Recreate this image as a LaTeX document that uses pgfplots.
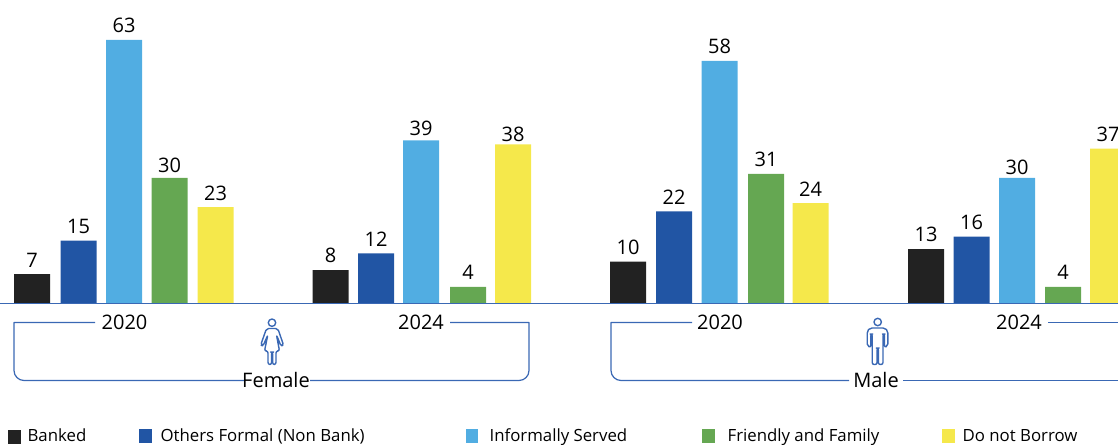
\documentclass[border=0pt]{standalone}
\usepackage{pgfplots}
\pgfplotsset{compat=1.18}
\usepackage{fontspec}
\setmainfont{Open Sans}
\definecolor{cBanked}{HTML}{222222}
\definecolor{cFormal}{HTML}{2155A4}
\definecolor{cInformal}{HTML}{51ADE2}
\definecolor{cFamily}{HTML}{65A752}
\definecolor{cNone}{HTML}{F5E84B}
\definecolor{cRule}{HTML}{3A68B4}
\pgfplotsset{
  share/.style={draw=none, fill=#1, bar shift=0pt, bar width=36,
    nodes near coords, every node near coord/.append style={font=\fontsize{15}{16}\selectfont, text=black, inner sep=0pt, yshift=5pt, /pgf/number format/assume math mode=true}},
}
\begin{document}
\begin{tikzpicture}[x=0.75pt,y=0.75pt]
\useasboundingbox (0,0) rectangle (1118,444);
\clip (0,0) rectangle (1118,444);
\begin{axis}[
  at={(0,0)}, anchor=south west, scale only axis,
  width=838.5pt, height=333pt,
  xmin=0, xmax=1118, ymin=-33.57, ymax=72.52,
  axis lines=none, ybar, clip=false,
  /pgf/number format/assume math mode=true,
]
% Banked
\addplot[share=cBanked] coordinates {(32,7) (330.5,8) (628,10) (926,13)};
% Others formal
\addplot[share=cFormal] coordinates {(78.5,15) (376,12) (674,22) (971.5,16)};
% Informally served
\addplot[share=cInformal, coordinate style/.condition={x==421}{yshift=-2pt}, coordinate style/.condition={x==1017}{yshift=-2.5pt}] coordinates {(124,63) (421,39) (719.5,58) (1017,30)};
% Friends and family
\addplot[share=cFamily, coordinate style/.condition={x==169.5}{yshift=-1pt}] coordinates {(169.5,30) (468,4) (766,31) (1063,4)};
% No borrowing
\addplot[share=cNone, coordinate style/.condition={x==513}{yshift=-3pt}] coordinates {(215.5,23) (513,38) (810.5,24) (1108,37)};
\end{axis}
\begin{scope}[shift={(0,444)},y=-0.75pt,x=0.75pt,line width=0.9pt]
  \tikzset{rule/.style={draw=cRule, line join=round}}
  % baseline
  \draw[rule] (0,303.5) -- (1118,303.5);
  % group brackets: square at the top, rounded at the bottom
  \draw[rule] (95,322.5) -- (14,322.5) -- (14,350) [rounded corners=7.5pt] -- (14,380.5) -- (245,380.5);
  \draw[rule] (450,322.5) -- (529,322.5) -- (529,350) [rounded corners=7.5pt] -- (529,380.5) -- (310,380.5);
  \draw[rule] (692,322.5) -- (611,322.5) -- (611,350) [rounded corners=7.5pt] -- (611,380.5) -- (849,380.5);
  \draw[rule] (903,380.5) -- (1130,380.5);
  \draw[rule] (1048,322.5) -- (1130,322.5);
  % figures
  \begin{scope}[line width=1.05pt]
    \draw[rule] (272,322.7) circle (3.7);
    \draw[rule, rounded corners=1.5pt] (266.5,328.5) -- (277.8,328.5) -- (283.5,345) -- (281,346) -- (276.5,335) -- (279.5,351) -- (276,351) -- (276,364.5) -- (272.6,364.5) -- (272.6,352) -- (271.6,352) -- (271.6,364.5) -- (268,364.5) -- (268,351) -- (264.5,351) -- (267.8,335) -- (263,346) -- (260.7,345) -- cycle;
    \draw[rule] (877.7,322) circle (3.7);
    \draw[rule, rounded corners=1.5pt] (870,328) -- (885,328) -- (887.8,331) -- (887.8,346) -- (884.5,347.5) -- (884.5,334) -- (883,334) -- (883,364.5) -- (878.3,364.5) -- (878.3,348) -- (877.1,348) -- (877.1,364.5) -- (872.2,364.5) -- (872.2,334) -- (870.7,334) -- (870.7,347.5) -- (867.2,346) -- (867.2,331) -- cycle;
  \end{scope}
  \tikzset{lab/.style={font=\fontsize{15}{16}\selectfont, text=black, inner sep=0pt}, leg/.style={font=\fontsize{12.6}{14}\selectfont, text=black, inner sep=0pt, anchor=base west}}
  \node[lab] at (124.5,322) {2020};
  \node[lab] at (421,322) {2024};
  \node[lab] at (276,380) {Female};
  \node[lab] at (720,322) {2020};
  \node[lab] at (1019,322) {2024};
  \node[lab] at (876,380) {Male};
  % legend
  \fill[cBanked] (8,430) rectangle (21,444);
  \node[leg] at (27,441.5) {Banked};
  \fill[cFormal] (139,429) rectangle (152,443);
  \node[leg] at (160,441.5) {Others Formal (Non Bank)};
  \fill[cInformal] (466,429) rectangle (478,443);
  \node[leg] at (489,441.5) {Informally Served};
  \fill[cFamily] (702,429) rectangle (715,443);
  \node[leg] at (727,441.5) {Friendly and Family};
  \fill[cNone] (942,429) rectangle (955,443);
  \node[leg] at (962,441.5) {Do not Borrow};
\end{scope}
\end{tikzpicture}
\end{document}
